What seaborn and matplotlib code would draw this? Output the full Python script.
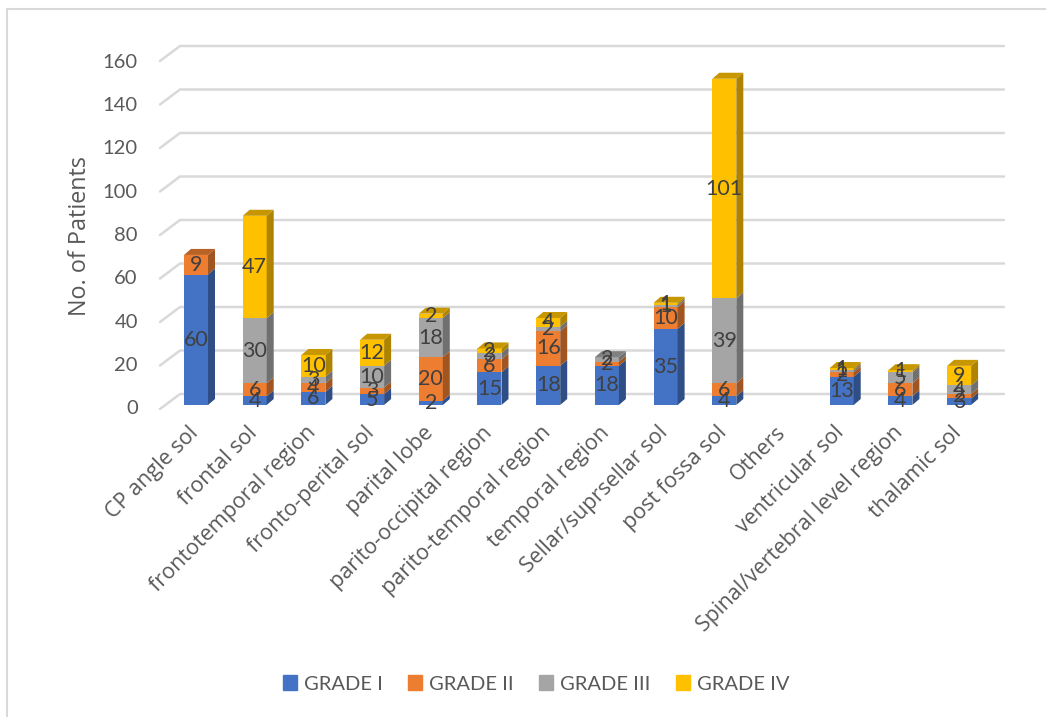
import matplotlib
matplotlib.use("Agg")
import matplotlib.pyplot as plt
from matplotlib.lines import Line2D
from matplotlib.transforms import ScaledTranslation
import numpy as np
import pandas as pd
import seaborn as sns

sites = ["CP angle sol", "frontal sol", "frontotemporal region", "fronto-perital sol",
         "parital lobe", "parito-occipital region", "parito-temporal region",
         "temporal region", "Sellar/suprsellar sol", "post fossa sol", "Others",
         "ventricular sol", "Spinal/vertebral level region", "thalamic sol"]
grade_1 = [60, 4, 6, 5, 2, 15, 18, 18, 35, 4, 0, 13, 4, 3]
grade_2 = [9, 6, 4, 3, 20, 6, 16, 2, 10, 6, 0, 2, 6, 2]
grade_3 = [0, 30, 3, 10, 18, 3, 2, 2, 1, 39, 0, 1, 5, 4]
grade_4 = [0, 47, 10, 12, 2, 2, 4, 0, 1, 101, 0, 1, 1, 9]
grade_names = ["GRADE I", "GRADE II", "GRADE III", "GRADE IV"]
grade_colors = ["#4472C4", "#ED7D31", "#A5A5A5", "#FFC000"]
y_ticks = [0, 20, 40, 60, 80, 100, 120, 140, 160]

W, H = 1046, 717
sns.set_theme(style="white")
plt.rcParams["font.family"] = ["Lato", "DejaVu Sans"]

df = pd.DataFrame({"site": sites, "GRADE I": grade_1, "GRADE II": grade_2,
                   "GRADE III": grade_3, "GRADE IV": grade_4})

fig = plt.figure(figsize=(W / 100, H / 100), dpi=100, facecolor="white")


def box(left, top, right, bottom):
    return [left / W, 1 - bottom / H, (right - left) / W, (bottom - top) / H]


# Chart border: only the top and left edges fall inside the canvas
fig.add_artist(Line2D([7 / W, 7 / W, 1], [0, 1 - 9 / H, 1 - 9 / H],
                      transform=fig.transFigure, color="#D9D9D9", linewidth=1.5,
                      solid_joinstyle="miter"))

px_per_unit = 2.175
px_per_cat = 58.7
ax = fig.add_axes(box(160, 30, 1004, 405))
ax.patch.set_alpha(0)
x_limits = ((160 - 196) / px_per_cat, (1004 - 196) / px_per_cat)
y_limits = (0, 375 / px_per_unit)
ax.set_xlim(x_limits)
ax.set_ylim(y_limits)

# Receding gridlines: a short diagonal on the side wall, then along the back wall
wall_dx = 20 / px_per_cat
for v in y_ticks:
    front = v - 4 / px_per_unit
    back = v + 11 / px_per_unit
    ax.plot([x_limits[0], x_limits[0] + wall_dx, x_limits[1]], [front, back, back],
            color="#D9D9D9", lw=1.8, zorder=0.5, clip_on=False, solid_joinstyle="miter")

# Front faces of the stacks
bar_width = 24 / px_per_cat
base = np.zeros(len(sites))
for name, color in zip(grade_names, grade_colors):
    sns.barplot(data=df, x="site", y=name, bottom=base, color=color, saturation=1,
                width=bar_width, errorbar=None, linewidth=0, ax=ax, zorder=2, label=name)
    base = base + df[name].to_numpy()
ax.get_legend().remove()
ax.set_xlim(x_limits)
ax.set_ylim(y_limits)

# Side and top faces give the columns their depth
dx = 7 / px_per_cat
dy = 6 / px_per_unit


def shade(color, factor):
    return tuple(c * factor for c in matplotlib.colors.to_rgb(color))


base = np.zeros(len(sites))
for name, color in zip(grade_names, grade_colors):
    values = df[name].to_numpy()
    for i, v in enumerate(values):
        if v == 0:
            continue
        xr = i + bar_width / 2
        xl = i - bar_width / 2
        y0, y1 = base[i], base[i] + v
        ax.fill([xr, xr + dx, xr + dx, xr], [y0, y0 + dy, y1 + dy, y1],
                color=shade(color, 0.68), lw=0, zorder=2)
        higher = sum(df[g].to_numpy()[i] for g in grade_names[grade_names.index(name) + 1:])
        if higher == 0:
            ax.fill([xl, xr, xr + dx, xl + dx], [y1, y1, y1 + dy, y1 + dy],
                    color=shade(color, 0.78), lw=0, zorder=2)
    base = base + values

# Value labels centred on each front face
base = np.zeros(len(sites))
for name in grade_names:
    values = df[name].to_numpy()
    for i, v in enumerate(values):
        if v > 0:
            ax.text(i, base[i] + v / 2, str(v), ha="center", va="center", fontsize=15.5,
                    color="#404040", zorder=5)
    base = base + values

# Category labels
ax.set_xlabel("")
ax.set_ylabel("")
ax.set_yticks([])
ax.set_xticks(range(len(sites)))
ax.set_xticklabels(sites, rotation=45, ha="right", rotation_mode="anchor",
                   fontsize=15.5, color="#595959", family="Open Sans")
ax.tick_params(axis="x", length=0, pad=6)
label_shift = ScaledTranslation(-8 / 100, -9 / 100, fig.dpi_scale_trans)
for lab in ax.get_xticklabels():
    lab.set_transform(lab.get_transform() + label_shift)
sns.despine(ax=ax, left=True, bottom=True)

# Value axis labels sit on the front edge of the side wall
scale_ax = fig.add_axes(box(160, 61, 1004, 407))
scale_ax.patch.set_alpha(0)
scale_ax.set_ylim(0, 160)
scale_ax.set_xticks([])
scale_ax.set_yticks(y_ticks)
scale_ax.tick_params(axis="y", length=0, pad=16, labelsize=14.5, labelcolor="#595959")
scale_ax.set_ylabel("No. of Patients", fontsize=16.8, color="#595959", labelpad=8,
                    family="Open Sans", y=0.495)
sns.despine(ax=scale_ax, left=True, bottom=True)

handles = [plt.Rectangle((0, 0), 1, 1, color=c) for c in grade_colors]
fig.legend(handles, grade_names, loc="center", bbox_to_anchor=(536 / W, 1 - 684 / H),
           ncol=4, frameon=False, fontsize=14.5, labelcolor="#595959", handlelength=0.7,
           handleheight=0.7, handletextpad=0.35, columnspacing=1.25)

fig.savefig("out.png", dpi=100, facecolor="white")
